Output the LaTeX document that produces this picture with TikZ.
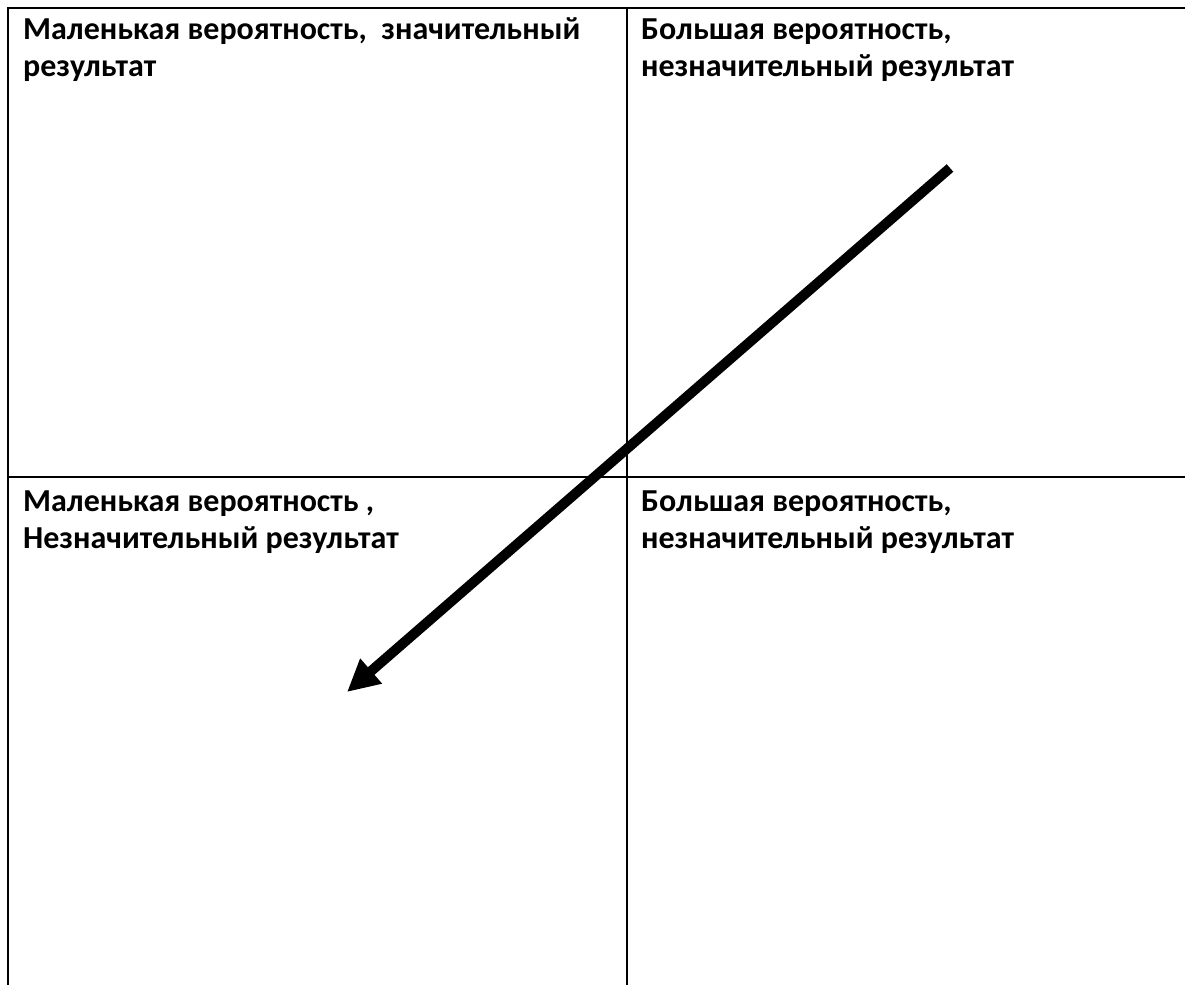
\documentclass[tikz,border=0pt]{standalone}
\usepackage{fontspec}
\setmainfont{Carlito}
\usetikzlibrary{arrows.meta}
\begin{document}
\begin{tikzpicture}[x=1pt,y=-1pt,
  grid/.style={line width=2pt,black},
  cell/.style={anchor=base west,inner sep=0pt,align=left,
    font=\fontsize{32}{37}\selectfont\bfseries},
  bigarrow/.style={line width=10pt,-{Triangle[length=32pt,width=31pt]}}]
\useasboundingbox (0,0) rectangle (1185,985);
\fill[white] (0,0) rectangle (1185,985);
% grid
\coordinate (tl) at (8,7.5);
\coordinate (tr) at (1185,7.5);
\coordinate (bl) at (8,985);
\coordinate (mt) at (626.5,7.5);
\coordinate (mb) at (626.5,985);
\coordinate (ml) at (8,477);
\coordinate (mr) at (1185,477);
\draw[grid] (tr) -- (tl) -- (bl);
\draw[grid] (mt) -- (mb);
\draw[grid] (ml) -- (mr);
% texts (anchor = baseline of the last line)
\node[cell] (q1) at (23,76) {Маленькая вероятность,\ \ значительный\\результат};
\node[cell] (q2) at (641,76) {Большая вероятность,\\незначительный результат};
\node[cell] (q3) at (23,548) {Маленькая вероятность ,\\Незначительный результат};
\node[cell] (q4) at (641,548) {Большая вероятность,\\незначительный результат};
% arrow
\coordinate (as) at (950,168);
\coordinate (ae) at (347,692);
\draw[bigarrow] (as) -- (ae);
\end{tikzpicture}
\end{document}
